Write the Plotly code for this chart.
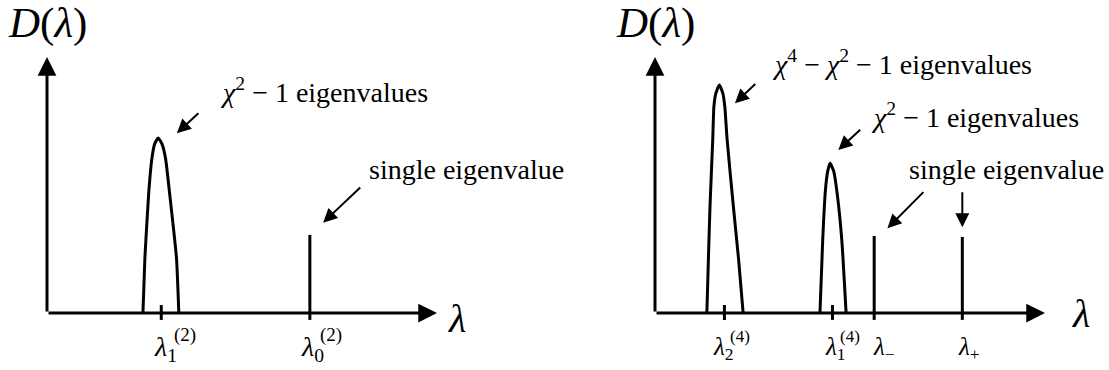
import plotly.graph_objects as go

# ---------------- data (abstract units: λ axis 0..10, D axis 0..10) ----------------
# left panel (χ = 2)
left_peak_x = [2.46, 2.51, 2.61, 2.69, 2.76, 2.85, 2.95, 3.04, 3.14, 3.32, 3.38]
left_peak_y = [0, 2.15, 4.73, 6.04, 6.6, 6.84, 6.6, 6.04, 4.73, 2.15, 0]
left_tick_x = [2.93]
left_spike_x = [6.74]
left_spike_h = [3.05]

# right panel (χ = 4)
right_peak1_x = [1.33, 1.37, 1.41, 1.48, 1.51, 1.56, 1.65, 1.74, 1.79, 1.85, 2.01, 2.14, 2.26]
right_peak1_y = [0, 2.15, 4.15, 6.76, 8.06, 8.58, 8.91, 8.58, 8.06, 6.76, 4.15, 2.15, 0]
right_peak2_x = [4.23, 4.30, 4.37, 4.43, 4.49, 4.58, 4.66, 4.79, 4.90]
right_peak2_y = [0, 2.85, 4.80, 5.55, 5.85, 5.55, 4.80, 2.85, 0]
right_tick_x = [1.78, 4.55]
right_spike_x = [5.62, 7.88]
right_spike_h = [3.01, 2.97]

axis_len = 10

# ---------------- layout geometry ----------------
W, H = 1109, 370
PX_X, PX_Y = 39.0, 25.6
ORIG_L, ORIG_R, ORIG_Y = 47.0, 655.0, 313.0
half = W / 2

xr_left = [-ORIG_L / PX_X, (half - ORIG_L) / PX_X]
xr_right = [-(ORIG_R - half) / PX_X, (W - ORIG_R) / PX_X]
yr = [-(H - ORIG_Y) / PX_Y, ORIG_Y / PX_Y]

FONT = "Times New Roman, Liberation Serif, DejaVu Serif, serif"
LW = 3
TICK_LO, TICK_HI = -0.27, 0.31

fig = go.Figure()

def line(xs, ys, xa, ya, smooth=False):
    fig.add_trace(go.Scatter(
        x=xs, y=ys, xaxis=xa, yaxis=ya, mode="lines",
        line=dict(color="black", width=LW, shape="spline" if smooth else "linear",
                  smoothing=0.45),
        hoverinfo="skip", showlegend=False))

# left panel marks
line(left_peak_x, left_peak_y, "x", "y", smooth=True)
for t in left_tick_x:
    line([t, t], [TICK_LO, TICK_HI], "x", "y")
for sx, sh in zip(left_spike_x, left_spike_h):
    line([sx, sx], [TICK_LO, sh], "x", "y")

# right panel marks
line(right_peak1_x, right_peak1_y, "x2", "y2", smooth=True)
line(right_peak2_x, right_peak2_y, "x2", "y2", smooth=True)
for t in right_tick_x:
    line([t, t], [TICK_LO, TICK_HI], "x2", "y2")
for sx, sh in zip(right_spike_x, right_spike_h):
    line([sx, sx], [TICK_LO, sh], "x2", "y2")

annotations = []

def arrow(x0, y0, x1, y1, xa, ya, width=2, size=1.4, head=2):
    annotations.append(dict(
        x=x1, y=y1, ax=x0, ay=y0, xref=xa, yref=ya, axref=xa, ayref=ya,
        text="", showarrow=True, arrowhead=head, arrowsize=size,
        arrowwidth=width, arrowcolor="black", standoff=0, startstandoff=0))

def text(x, y, s, xa, ya, size=28, xanchor="center", yanchor="middle"):
    annotations.append(dict(
        x=x, y=y, xref=xa, yref=ya, text=s, showarrow=False,
        xanchor=xanchor, yanchor=yanchor,
        font=dict(family=FONT, size=size, color="black")))

for xa, ya in (("x", "y"), ("x2", "y2")):
    arrow(0, 0, axis_len, 0, xa, ya, width=3, size=1.25)
    arrow(0, 0, 0, axis_len, xa, ya, width=3, size=1.25)
    text(0.01, 11.33, "<i>D</i>(<i>λ</i>)", xa, ya, size=43)

# left panel labels
text(10.5, -0.2, "<i>λ</i>", "x", "y", size=40)
text(7.09, 8.71, "<i>χ</i><sup>2</sup> − 1 eigenvalues", "x", "y")
arrow(3.92, 7.86, 3.33, 7.02, "x", "y")
text(8.20, 5.59, "single eigenvalue", "x", "y", xanchor="left")
arrow(8.07, 4.96, 7.08, 3.53, "x", "y")
text(3.05, -1.38, "<i>λ</i><sub>1</sub>", "x", "y", size=28)
text(3.55, -0.85, "(2)", "x", "y", size=19)
text(6.81, -1.38, "<i>λ</i><sub>0</sub>", "x", "y", size=28)
text(7.28, -0.85, "(2)", "x", "y", size=19)

# right panel labels
text(10.92, 0.0, "<i>λ</i>", "x2", "y2", size=40)
text(6.33, 9.77, "<i>χ</i><sup>4</sup> − <i>χ</i><sup>2</sup> − 1 eigenvalues", "x2", "y2")
arrow(2.61, 9.0, 2.05, 8.19, "x2", "y2")
text(8.21, 7.73, "<i>χ</i><sup>2</sup> − 1 eigenvalues", "x2", "y2")
arrow(5.30, 7.21, 4.70, 6.37, "x2", "y2")
text(9.02, 5.59, "single eigenvalue", "x2", "y2")
arrow(6.92, 4.78, 5.96, 3.31, "x2", "y2")
arrow(7.88, 4.78, 7.88, 3.35, "x2", "y2")
text(1.76, -1.4, "<i>λ</i><sub>2</sub>", "x2", "y2", size=25)
text(2.19, -0.92, "(4)", "x2", "y2", size=17)
text(4.62, -1.4, "<i>λ</i><sub>1</sub>", "x2", "y2", size=25)
text(4.99, -0.92, "(4)", "x2", "y2", size=17)
text(5.88, -1.4, "<i>λ</i><sub>−</sub>", "x2", "y2", size=25)
text(8.05, -1.4, "<i>λ</i><sub>+</sub>", "x2", "y2", size=25)

ax_common = dict(visible=False, showgrid=False, zeroline=False, fixedrange=True)
fig.update_layout(
    width=W, height=H, margin=dict(l=0, r=0, t=0, b=0),
    paper_bgcolor="white", plot_bgcolor="white",
    xaxis=dict(domain=[0, 0.5], range=xr_left, **ax_common),
    yaxis=dict(domain=[0, 1], range=yr, **ax_common),
    xaxis2=dict(domain=[0.5, 1], range=xr_right, **ax_common),
    yaxis2=dict(domain=[0, 1], range=yr, anchor="x2", **ax_common),
    annotations=annotations,
    showlegend=False,
)

fig.write_html("out.html")
